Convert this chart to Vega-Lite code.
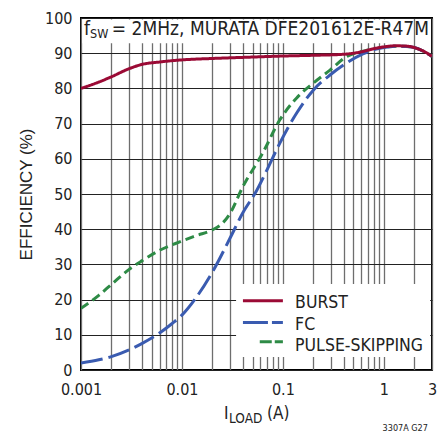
{
  "$schema": "https://vega.github.io/schema/vega-lite/v6.json",
  "width": 351,
  "height": 352,
  "autosize": {"type": "none"},
  "padding": {"left": 81, "top": 18, "right": 14, "bottom": 64},
  "background": "white",
  "config": {
    "view": {"stroke": "black", "strokeWidth": 2},
    "font": "Liberation Sans Narrow, DejaVu Sans Condensed, Liberation Sans, sans-serif",
    "text": {"font": "Liberation Sans Narrow, DejaVu Sans Condensed, Liberation Sans, sans-serif", "color": "#222222"}
  },
  "layer": [
    {
      "data": {
        "values": [
          {"load": 0.001, "eff": 17.5, "mode": "PULSE-SKIPPING"},
          {"load": 0.0015, "eff": 21.2, "mode": "PULSE-SKIPPING"},
          {"load": 0.002, "eff": 24.3, "mode": "PULSE-SKIPPING"},
          {"load": 0.003, "eff": 28.6, "mode": "PULSE-SKIPPING"},
          {"load": 0.004, "eff": 31.0, "mode": "PULSE-SKIPPING"},
          {"load": 0.006, "eff": 34.0, "mode": "PULSE-SKIPPING"},
          {"load": 0.0095, "eff": 36.4, "mode": "PULSE-SKIPPING"},
          {"load": 0.014, "eff": 38.2, "mode": "PULSE-SKIPPING"},
          {"load": 0.02, "eff": 39.8, "mode": "PULSE-SKIPPING"},
          {"load": 0.025, "eff": 41.6, "mode": "PULSE-SKIPPING"},
          {"load": 0.03, "eff": 44.5, "mode": "PULSE-SKIPPING"},
          {"load": 0.04, "eff": 52.0, "mode": "PULSE-SKIPPING"},
          {"load": 0.063, "eff": 61.6, "mode": "PULSE-SKIPPING"},
          {"load": 0.093, "eff": 71.0, "mode": "PULSE-SKIPPING"},
          {"load": 0.137, "eff": 77.3, "mode": "PULSE-SKIPPING"},
          {"load": 0.2, "eff": 81.5, "mode": "PULSE-SKIPPING"},
          {"load": 0.293, "eff": 85.2, "mode": "PULSE-SKIPPING"},
          {"load": 0.427, "eff": 89.0, "mode": "PULSE-SKIPPING"},
          {"load": 0.53, "eff": 90.1, "mode": "PULSE-SKIPPING"},
          {"load": 0.7, "eff": 90.9, "mode": "PULSE-SKIPPING"},
          {"load": 1.0, "eff": 91.7, "mode": "PULSE-SKIPPING"},
          {"load": 1.5, "eff": 92.0, "mode": "PULSE-SKIPPING"},
          {"load": 2.0, "eff": 91.6, "mode": "PULSE-SKIPPING"},
          {"load": 3.0, "eff": 89.1, "mode": "PULSE-SKIPPING"},
          {"load": 0.001, "eff": 2.0, "mode": "FC"},
          {"load": 0.0015, "eff": 2.9, "mode": "FC"},
          {"load": 0.002, "eff": 3.8, "mode": "FC"},
          {"load": 0.003, "eff": 5.7, "mode": "FC"},
          {"load": 0.004, "eff": 7.5, "mode": "FC"},
          {"load": 0.006, "eff": 10.5, "mode": "FC"},
          {"load": 0.008, "eff": 13.2, "mode": "FC"},
          {"load": 0.01, "eff": 15.6, "mode": "FC"},
          {"load": 0.014, "eff": 20.8, "mode": "FC"},
          {"load": 0.02, "eff": 27.8, "mode": "FC"},
          {"load": 0.03, "eff": 37.5, "mode": "FC"},
          {"load": 0.04, "eff": 44.6, "mode": "FC"},
          {"load": 0.055, "eff": 51.0, "mode": "FC"},
          {"load": 0.07, "eff": 57.0, "mode": "FC"},
          {"load": 0.093, "eff": 64.4, "mode": "FC"},
          {"load": 0.137, "eff": 73.0, "mode": "FC"},
          {"load": 0.2, "eff": 79.5, "mode": "FC"},
          {"load": 0.293, "eff": 83.8, "mode": "FC"},
          {"load": 0.427, "eff": 87.2, "mode": "FC"},
          {"load": 0.62, "eff": 89.8, "mode": "FC"},
          {"load": 0.8, "eff": 91.0, "mode": "FC"},
          {"load": 1.0, "eff": 91.6, "mode": "FC"},
          {"load": 1.5, "eff": 92.0, "mode": "FC"},
          {"load": 2.0, "eff": 91.6, "mode": "FC"},
          {"load": 3.0, "eff": 89.1, "mode": "FC"},
          {"load": 0.001, "eff": 80.0, "mode": "BURST"},
          {"load": 0.0015, "eff": 81.8, "mode": "BURST"},
          {"load": 0.002, "eff": 83.3, "mode": "BURST"},
          {"load": 0.003, "eff": 85.6, "mode": "BURST"},
          {"load": 0.004, "eff": 86.8, "mode": "BURST"},
          {"load": 0.006, "eff": 87.5, "mode": "BURST"},
          {"load": 0.01, "eff": 88.1, "mode": "BURST"},
          {"load": 0.02, "eff": 88.5, "mode": "BURST"},
          {"load": 0.05, "eff": 88.9, "mode": "BURST"},
          {"load": 0.1, "eff": 89.2, "mode": "BURST"},
          {"load": 0.2, "eff": 89.4, "mode": "BURST"},
          {"load": 0.4, "eff": 89.7, "mode": "BURST"},
          {"load": 0.6, "eff": 90.4, "mode": "BURST"},
          {"load": 0.8, "eff": 91.3, "mode": "BURST"},
          {"load": 1.0, "eff": 91.8, "mode": "BURST"},
          {"load": 1.3, "eff": 92.1, "mode": "BURST"},
          {"load": 1.7, "eff": 92.0, "mode": "BURST"},
          {"load": 2.0, "eff": 91.6, "mode": "BURST"},
          {"load": 2.5, "eff": 90.5, "mode": "BURST"},
          {"load": 3.0, "eff": 89.1, "mode": "BURST"}
        ]
      },
      "mark": {"type": "line", "interpolate": "monotone", "strokeWidth": 3, "clip": true},
      "encoding": {
        "x": {
          "field": "load",
          "type": "quantitative",
          "scale": {"type": "log", "domain": [0.001, 3], "nice": false},
          "axis": {
            "title": null,
            "values": [0.001, 0.002, 0.003, 0.004, 0.005, 0.006, 0.007, 0.008, 0.009, 0.01, 0.02, 0.03, 0.04, 0.05, 0.06, 0.07, 0.08, 0.09, 0.1, 0.2, 0.3, 0.4, 0.5, 0.6, 0.7, 0.8, 0.9, 1, 2, 3],
            "labelExpr": "datum.value == 0.001 ? '0.001' : datum.value == 0.01 ? '0.01' : datum.value == 0.1 ? '0.1' : datum.value == 1 ? '1' : datum.value == 3 ? '3' : ''",
            "labelOverlap": false,
            "labelFlush": false,
            "labelFontSize": 16,
            "labelColor": "#222222",
            "labelPadding": 11,
            "ticks": false,
            "domain": false,
            "grid": true,
            "gridColor": "#6e6e6e",
            "gridWidth": 1.3,
            "gridOpacity": 1
          }
        },
        "y": {
          "field": "eff",
          "type": "quantitative",
          "scale": {"domain": [0, 100], "nice": false, "zero": false},
          "axis": {
            "title": "EFFICIENCY (%)",
            "titleFont": "Liberation Sans",
            "titleFontSize": 17,
            "titleFontWeight": "normal",
            "titleColor": "#222222",
            "titlePadding": 9,
            "values": [0, 10, 20, 30, 40, 50, 60, 70, 80, 90, 100],
            "labelFontSize": 16,
            "labelColor": "#222222",
            "labelPadding": 9,
            "labelOverlap": false,
            "labelFlush": false,
            "ticks": false,
            "domain": false,
            "grid": true,
            "gridColor": "#222222",
            "gridWidth": 1.2,
            "gridOpacity": 1
          }
        },
        "color": {
          "field": "mode",
          "type": "nominal",
          "scale": {"domain": ["PULSE-SKIPPING", "FC", "BURST"], "range": ["#2e8b46", "#3a5bb0", "#9b0a35"]},
          "legend": null
        },
        "strokeDash": {
          "field": "mode",
          "type": "nominal",
          "scale": {"domain": ["PULSE-SKIPPING", "FC", "BURST"], "range": [[9, 5], [22, 6], [1, 0]]},
          "legend": null
        }
      }
    },
    {
      "data": {"values": [{}]},
      "mark": {"type": "rect", "fill": "white"},
      "encoding": {
        "x": {"datum": 0.00103, "type": "quantitative"},
        "x2": {"datum": 1.42},
        "y": {"datum": 92.8, "type": "quantitative", "axis": {"values": [0, 10, 20, 30, 40, 50, 60, 70, 80, 90, 100]}},
        "y2": {"datum": 99.6}
      }
    },
    {
      "data": {"values": [{}]},
      "mark": {"type": "rect", "fill": "white"},
      "encoding": {
        "x": {"datum": 0.03437, "type": "quantitative"},
        "x2": {"datum": 2.877},
        "y": {"datum": 3.7, "type": "quantitative", "axis": {"values": [0, 10, 20, 30, 40, 50, 60, 70, 80, 90, 100]}},
        "y2": {"datum": 24.4}
      }
    },
    {
      "data": {"values": [{}]},
      "mark": {"type": "rule", "color": "#9b0a35", "strokeWidth": 3},
      "encoding": {
        "x": {"datum": 0.0402, "type": "quantitative"},
        "x2": {"datum": 0.1},
        "y": {"datum": 19.7, "type": "quantitative", "axis": {"values": [0, 10, 20, 30, 40, 50, 60, 70, 80, 90, 100]}}
      }
    },
    {
      "data": {"values": [{}]},
      "mark": {"type": "rule", "color": "#3a5bb0", "strokeWidth": 3, "strokeDash": [25, 4]},
      "encoding": {
        "x": {"datum": 0.0402, "type": "quantitative"},
        "x2": {"datum": 0.1},
        "y": {"datum": 13.5, "type": "quantitative", "axis": {"values": [0, 10, 20, 30, 40, 50, 60, 70, 80, 90, 100]}}
      }
    },
    {
      "data": {"values": [{}]},
      "mark": {"type": "rule", "color": "#2e8b46", "strokeWidth": 3, "strokeDash": [12, 3]},
      "encoding": {
        "x": {"datum": 0.059, "type": "quantitative"},
        "x2": {"datum": 0.1},
        "y": {"datum": 8.0, "type": "quantitative", "axis": {"values": [0, 10, 20, 30, 40, 50, 60, 70, 80, 90, 100]}}
      }
    },
    {
      "data": {"values": [{}]},
      "mark": {"type": "text", "align": "left", "baseline": "middle", "fontSize": 17.5},
      "encoding": {
        "x": {"datum": 0.1321, "type": "quantitative"},
        "y": {"datum": 18.9, "type": "quantitative", "axis": {"values": [0, 10, 20, 30, 40, 50, 60, 70, 80, 90, 100]}},
        "text": {"value": "BURST"}
      }
    },
    {
      "data": {"values": [{}]},
      "mark": {"type": "text", "align": "left", "baseline": "middle", "fontSize": 17.5},
      "encoding": {
        "x": {"datum": 0.1321, "type": "quantitative"},
        "y": {"datum": 12.8, "type": "quantitative", "axis": {"values": [0, 10, 20, 30, 40, 50, 60, 70, 80, 90, 100]}},
        "text": {"value": "FC"}
      }
    },
    {
      "data": {"values": [{}]},
      "mark": {"type": "text", "align": "left", "baseline": "middle", "fontSize": 17.5},
      "encoding": {
        "x": {"datum": 0.1321, "type": "quantitative"},
        "y": {"datum": 6.9, "type": "quantitative", "axis": {"values": [0, 10, 20, 30, 40, 50, 60, 70, 80, 90, 100]}},
        "text": {"value": "PULSE-SKIPPING"}
      }
    },
    {
      "data": {"values": [{}]},
      "mark": {"type": "text", "align": "left", "baseline": "alphabetic", "fontSize": 19},
      "encoding": {
        "x": {"datum": 0.001071, "type": "quantitative"},
        "y": {"datum": 95.2, "type": "quantitative", "axis": {"values": [0, 10, 20, 30, 40, 50, 60, 70, 80, 90, 100]}},
        "text": {"value": "f"}
      }
    },
    {
      "data": {"values": [{}]},
      "mark": {"type": "text", "align": "left", "baseline": "alphabetic", "fontSize": 12.5},
      "encoding": {
        "x": {"datum": 0.001228, "type": "quantitative"},
        "y": {"datum": 94.2, "type": "quantitative", "axis": {"values": [0, 10, 20, 30, 40, 50, 60, 70, 80, 90, 100]}},
        "text": {"value": "SW"}
      }
    },
    {
      "data": {"values": [{}]},
      "mark": {"type": "text", "align": "left", "baseline": "alphabetic", "fontSize": 19},
      "encoding": {
        "x": {"datum": 0.00202, "type": "quantitative"},
        "y": {"datum": 95.2, "type": "quantitative", "axis": {"values": [0, 10, 20, 30, 40, 50, 60, 70, 80, 90, 100]}},
        "text": {"value": "= 2MHz, MURATA DFE201612E-R47M"}
      }
    },
    {
      "data": {"values": [{}]},
      "mark": {"type": "text", "align": "left", "baseline": "alphabetic", "fontSize": 17},
      "encoding": {
        "x": {"datum": 0.02614, "type": "quantitative"},
        "y": {"datum": -13.8, "type": "quantitative", "axis": {"values": [0, 10, 20, 30, 40, 50, 60, 70, 80, 90, 100]}},
        "text": {"value": "I"}
      }
    },
    {
      "data": {"values": [{}]},
      "mark": {"type": "text", "align": "left", "baseline": "alphabetic", "fontSize": 13.5},
      "encoding": {
        "x": {"datum": 0.0293, "type": "quantitative"},
        "y": {"datum": -15.1, "type": "quantitative", "axis": {"values": [0, 10, 20, 30, 40, 50, 60, 70, 80, 90, 100]}},
        "text": {"value": "LOAD"}
      }
    },
    {
      "data": {"values": [{}]},
      "mark": {"type": "text", "align": "left", "baseline": "alphabetic", "fontSize": 17},
      "encoding": {
        "x": {"datum": 0.06972, "type": "quantitative"},
        "y": {"datum": -13.8, "type": "quantitative", "axis": {"values": [0, 10, 20, 30, 40, 50, 60, 70, 80, 90, 100]}},
        "text": {"value": "(A)"}
      }
    },
    {
      "data": {"values": [{}]},
      "mark": {"type": "text", "align": "center", "baseline": "alphabetic", "fontSize": 9},
      "encoding": {
        "x": {"datum": 1.63, "type": "quantitative"},
        "y": {"datum": -17.4, "type": "quantitative", "axis": {"values": [0, 10, 20, 30, 40, 50, 60, 70, 80, 90, 100]}},
        "text": {"value": "3307A G27"}
      }
    }
  ]
}
